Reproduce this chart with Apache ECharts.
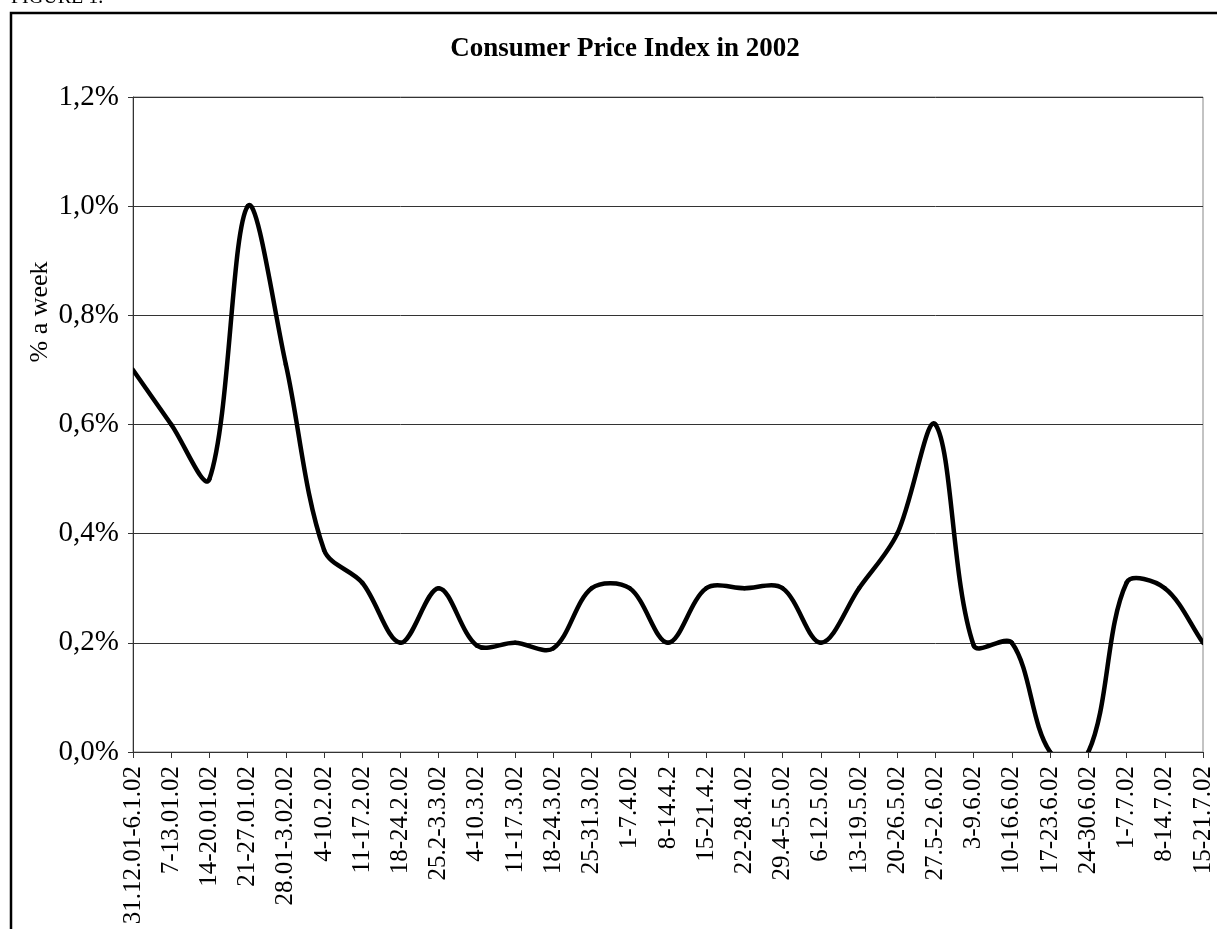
<!DOCTYPE html>
<html>
<head>
<meta charset="utf-8">
<script src="https://cdn.jsdelivr.net/npm/echarts@6/dist/echarts.min.js"></script>
<style>
  html, body { margin: 0; padding: 0; background: #fff; }
  #chart { width: 1217px; height: 929px; }
</style>
</head>
<body>
<div id="chart"></div>
<script>
// weekly periods, Jan - Jul 2002
const weeks = [
  '31.12.01-6.1.02', '7-13.01.02', '14-20.01.02', '21-27.01.02', '28.01-3.02.02',
  '4-10.2.02', '11-17.2.02', '18-24.2.02', '25.2-3.3.02', '4-10.3.02',
  '11-17.3.02', '18-24.3.02', '25-31.3.02', '1-7.4.02', '8-14.4.2',
  '15-21.4.2', '22-28.4.02', '29.4-5.5.02', '6-12.5.02', '13-19.5.02',
  '20-26.5.02', '27.5-2.6.02', '3-9.6.02', '10-16.6.02', '17-23.6.02',
  '24-30.6.02', '1-7.7.02', '8-14.7.02', '15-21.7.02'
]
// % a week
const cpi = [
  0.7, 0.6, 0.5, 1.0, 0.71,
  0.37, 0.31, 0.2, 0.3, 0.195,
  0.2, 0.19, 0.3, 0.3, 0.2,
  0.3, 0.3, 0.3, 0.2, 0.3,
  0.4, 0.6, 0.195, 0.2, 0.0,
  0.0, 0.31, 0.3, 0.2
]
const yTicks = { min: 0, max: 1.2, step: 0.2 }

const serif = '"Liberation Serif", "DejaVu Serif", serif'
const chart = echarts.init(document.getElementById('chart'))

// smoothed segment i -> i+1, spreadsheet-like: tangent (next - prev) split by
// neighbouring segment lengths, no clamping, so it may overshoot; grid clips
const SMOOTH = 1 / 3
function renderSegment(params, api) {
  const i = params.dataIndex
  if (i >= cpi.length - 1) return null
  const pt = k => {
    const j = Math.max(0, Math.min(cpi.length - 1, k))
    return api.coord([j, cpi[j]])
  }
  const dist = (a, b) => Math.hypot(a[0] - b[0], a[1] - b[1])
  const p0 = pt(i - 1), p1 = pt(i), p2 = pt(i + 1), p3 = pt(i + 2)
  // outgoing control at p1
  const a0 = dist(p0, p1), a1 = dist(p1, p2)
  const ka = a0 + a1 > 0 ? SMOOTH * a1 / (a0 + a1) : 0
  // incoming control at p2
  const b0 = dist(p1, p2), b1 = dist(p2, p3)
  const kb = b0 + b1 > 0 ? SMOOTH * b0 / (b0 + b1) : 0
  return {
    type: 'bezierCurve',
    shape: {
      x1: p1[0], y1: p1[1], x2: p2[0], y2: p2[1],
      cpx1: p1[0] + (p2[0] - p0[0]) * ka, cpy1: p1[1] + (p2[1] - p0[1]) * ka,
      cpx2: p2[0] - (p3[0] - p1[0]) * kb, cpy2: p2[1] - (p3[1] - p1[1]) * kb
    },
    style: { stroke: '#000', lineWidth: 4.5, fill: null, lineCap: 'round', lineJoin: 'round' }
  }
}

chart.setOption({
  animation: false,
  backgroundColor: '#fff',
  textStyle: { fontFamily: serif, color: '#000' },
  title: {
    text: 'Consumer Price Index in 2002',
    left: 620,
    textAlign: 'center',
    top: 31,
    textStyle: { fontFamily: serif, fontWeight: 'bold', fontSize: 27, color: '#000' }
  },
  graphic: [
    // outer frame (left + top edges visible)
    {
      type: 'polyline',
      shape: { points: [[11, 935], [11, 13], [1225, 13]] },
      style: { stroke: '#000', lineWidth: 2.5, fill: null }
    },
    {
      type: 'text',
      left: 11,
      top: -12,
      style: { text: 'FIGURE 1.', font: '20px ' + serif, fill: '#000' }
    },
    {
      type: 'text',
      x: 40,
      y: 312,
      rotation: Math.PI / 2,
      style: {
        text: '% a week', font: '26px ' + serif, fill: '#000',
        align: 'center', verticalAlign: 'middle'
      }
    }
  ],
  grid: {
    left: 133, right: 14, top: 97, bottom: 177,
    show: true, borderColor: '#888', borderWidth: 1
  },
  xAxis: {
    type: 'category',
    data: weeks,
    boundaryGap: false,
    axisLine: { lineStyle: { color: '#333', width: 1 } },
    axisTick: { inside: false, length: 6, lineStyle: { color: '#333' } },
    axisLabel: {
      rotate: 90, interval: 0, margin: 14,
      fontFamily: serif, fontSize: 25, color: '#000'
    },
    splitLine: { show: false }
  },
  yAxis: {
    type: 'value',
    min: yTicks.min, max: yTicks.max, interval: yTicks.step,
    axisLine: { show: true, lineStyle: { color: '#333' } },
    axisTick: { show: true, length: 5, lineStyle: { color: '#333' } },
    axisLabel: {
      margin: 14, fontFamily: serif, fontSize: 29, color: '#000',
      formatter: v => v.toFixed(1).replace('.', ',') + '%'
    },
    splitLine: { lineStyle: { color: '#333', width: 1 } }
  },
  series: [{
    type: 'custom',
    data: cpi.map((v, i) => [i, v]),
    encode: { x: 0, y: 1 },
    clip: true,
    renderItem: renderSegment
  }]
})
</script>
</body>
</html>
